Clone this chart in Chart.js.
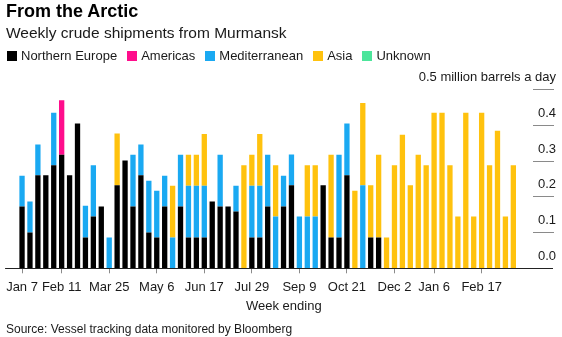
<!DOCTYPE html>
<html>
<head>
<meta charset="utf-8">
<script src="https://cdn.jsdelivr.net/npm/chart.js@4"></script>
<style>
  body { margin: 0; background: #fff; }
  #wrap { position: relative; width: 562px; height: 337px; font-family: "Liberation Sans", Arial, sans-serif; color: #1a1a1a; overflow: hidden; }
  #wrap canvas { position: absolute; left: 0; top: 0; }
  .txt { position: absolute; white-space: nowrap; }
  .title { left: 6px; top: 1.5px; font-size: 18px; line-height: 18px; font-weight: bold; color: #000; }
  .sub { left: 6px; top: 24.6px; font-size: 15.5px; line-height: 15.5px; }
  .legend { left: 7px; top: 49px; font-size: 13px; line-height: 13px; display: flex; }
  .legend span { display: inline-flex; align-items: center; margin-right: 10px; }
  .legend i { display: inline-block; width: 10px; height: 10px; margin-right: 4px; }
  .xtitle { left: 246px; top: 299px; font-size: 13px; line-height: 13px; }
  .source { left: 6px; top: 322.5px; font-size: 12px; line-height: 12px; }
</style>
</head>
<body>
<div id="wrap">
  <canvas id="myChart" width="562" height="337"></canvas>
  <div class="txt title">From the Arctic</div>
  <div class="txt sub">Weekly crude shipments from Murmansk</div>
  <div class="txt legend" id="legend"></div>
  <div class="txt xtitle">Week ending</div>
  <div class="txt source">Source: Vessel tracking data monitored by Bloomberg</div>
</div>
<script>
// week ending dates, Jan 2018 - Mar 2019
const weeks = ['Jan 7','Jan 14','Jan 21','Jan 28','Feb 4','Feb 11','Feb 18','Feb 25',
  'Mar 4','Mar 11','Mar 18','Mar 25','Apr 1','Apr 8','Apr 15','Apr 22','Apr 29',
  'May 6','May 13','May 20','May 27','Jun 3','Jun 10','Jun 17','Jun 24',
  'Jul 1','Jul 8','Jul 15','Jul 22','Jul 29','Aug 5','Aug 12','Aug 19','Aug 26',
  'Sep 2','Sep 9','Sep 16','Sep 23','Sep 30','Oct 7','Oct 14','Oct 21','Oct 28',
  'Nov 4','Nov 11','Nov 18','Nov 25','Dec 2','Dec 9','Dec 16','Dec 23','Dec 30',
  'Jan 6','Jan 13','Jan 20','Jan 27','Feb 3','Feb 10','Feb 17','Feb 24',
  'Mar 3','Mar 10','Mar 17'];

const tickLabels = ['Jan 7','Feb 11','Mar 25','May 6','Jun 17','Jul 29','Sep 9','Oct 21','Dec 2','Jan 6','Feb 17'];

// million barrels a day
const northernEurope = [0.172,0.1,0.259,0.259,0.287,0.316,0.259,0.403,0.086,0.144,0.172,0,
  0.231,0.3,0.172,0.259,0.1,0.086,0.172,0,0.172,0.086,0.086,0.086,0.186,0.172,0.172,0.158,
  0,0.086,0.086,0.172,0,0.172,0.231,0,0,0,0.231,0.086,0.086,0.259,0,0,0.086,0.086,
  0,0,0,0,0,0,0,0,0,0,0,0,0,0,0,0,0];
const americas = [0,0,0,0,0,0.152,0,0,0,0,0,0,
  0,0,0,0,0,0,0,0,0,0,0,0,0,0,0,0,
  0,0,0,0,0,0,0,0,0,0,0,0,0,0,0,0,0,0,
  0,0,0,0,0,0,0,0,0,0,0,0,0,0,0,0,0];
const mediterranean = [0.086,0.086,0.086,0,0.146,0,0,0,0.088,0.143,0,0.086,
  0,0,0.144,0.086,0.144,0.13,0.086,0.086,0.144,0.144,0.144,0.144,0,0.144,0,0.072,
  0,0.144,0.144,0.144,0.144,0.086,0.086,0.144,0.144,0.144,0,0,0.23,0.144,0,0.231,0,0,
  0,0,0,0,0,0,0,0,0,0,0,0,0,0,0,0,0];
const asia = [0,0,0,0,0,0,0,0,0,0,0,0,
  0.144,0,0,0,0,0,0,0.144,0,0.086,0.086,0.144,0,0,0,0,
  0.287,0.086,0.144,0,0.143,0,0,0,0.143,0.143,0,0.23,0,0,0.216,0.229,0.145,0.23,
  0.086,0.287,0.372,0.231,0.316,0.287,0.433,0.433,0.287,0.144,0.433,0.144,0.433,0.287,0.383,0.144,0.287];
const unknown = weeks.map(() => 0);

const seriesNames = ['Northern Europe','Americas','Mediterranean','Asia','Unknown'];
const seriesColors = ['#000000','#ff0d8c','#1aa9f2','#ffc20e','#4ce59b'];
const seriesData = [northernEurope, americas, mediterranean, asia, unknown];

const yTicks = [0, 0.1, 0.2, 0.3, 0.4, 0.5];
const yUnit = ' million barrels a day';

document.getElementById('legend').innerHTML = seriesNames.map((n, i) =>
  '<span><i style="background:' + seriesColors[i] + '"></i>' + n + '</span>').join('');

// baseline, short gridline dashes and value labels at the right
const extras = {
  id: 'extras',
  afterDraw(chart) {
    const ctx = chart.ctx, x = chart.scales.x, y = chart.scales.y;
    ctx.save();
    ctx.lineWidth = 1;
    ctx.strokeStyle = '#8a8a8a';
    ctx.fillStyle = '#1a1a1a';
    ctx.font = '13px "Liberation Sans", Arial, sans-serif';
    ctx.textAlign = 'right';
    ctx.textBaseline = 'middle';
    yTicks.forEach(v => {
      const py = Math.round(y.getPixelForValue(v)) + 0.5;
      if (v !== 0) {
        ctx.beginPath();
        ctx.moveTo(y.right - 23, py);
        ctx.lineTo(y.right - 2, py);
        ctx.stroke();
      }
      const lbl = v.toFixed(1) + (v === yTicks[yTicks.length - 1] ? yUnit : '');
      ctx.fillText(lbl, y.right, py - 12);
    });
    const y0 = Math.round(y.getPixelForValue(0)) + 0.5;
    ctx.strokeStyle = '#222';
    ctx.beginPath();
    ctx.moveTo(x.left - 13, y0);
    ctx.lineTo(y.right - 3, y0);
    ctx.stroke();
    ctx.restore();
  }
};

const ctx = document.getElementById('myChart');

var chart = new Chart(ctx, {
  type: 'bar',
  data: {
    labels: weeks,
    datasets: seriesNames.map((n, i) => ({
      label: n,
      data: seriesData[i],
      backgroundColor: seriesColors[i],
      borderWidth: 0,
      categoryPercentage: 1,
      barPercentage: 0.67
    }))
  },
  options: {
    responsive: false,
    animation: false,
    devicePixelRatio: 1,
    layout: { padding: { left: 17.7, right: 6, top: 88.7, bottom: 43.7 } },
    plugins: {
      legend: { display: false },
      tooltip: { enabled: false }
    },
    scales: {
      x: {
        stacked: true,
        border: { display: false },
        grid: {
          offset: false,
          drawOnChartArea: false,
          tickLength: 5,
          color: (c) => (c.tick && c.tick.label) ? '#8a8a8a' : 'transparent'
        },
        ticks: {
          autoSkip: false,
          maxRotation: 0,
          padding: 6,
          color: '#1a1a1a',
          font: { family: '"Liberation Sans", Arial, sans-serif', size: 13 },
          callback: function(v, i) { return tickLabels.includes(weeks[i]) ? weeks[i] : ''; }
        },
        afterFit: (s) => { s.height = 25; }
      },
      y: {
        stacked: true,
        position: 'right',
        min: 0,
        max: 0.5,
        border: { display: false },
        grid: { display: false },
        ticks: { display: false, stepSize: 0.1 },
        afterFit: (s) => { s.width = 38.7; }
      }
    }
  },
  plugins: [extras]
});
</script>
</body>
</html>
